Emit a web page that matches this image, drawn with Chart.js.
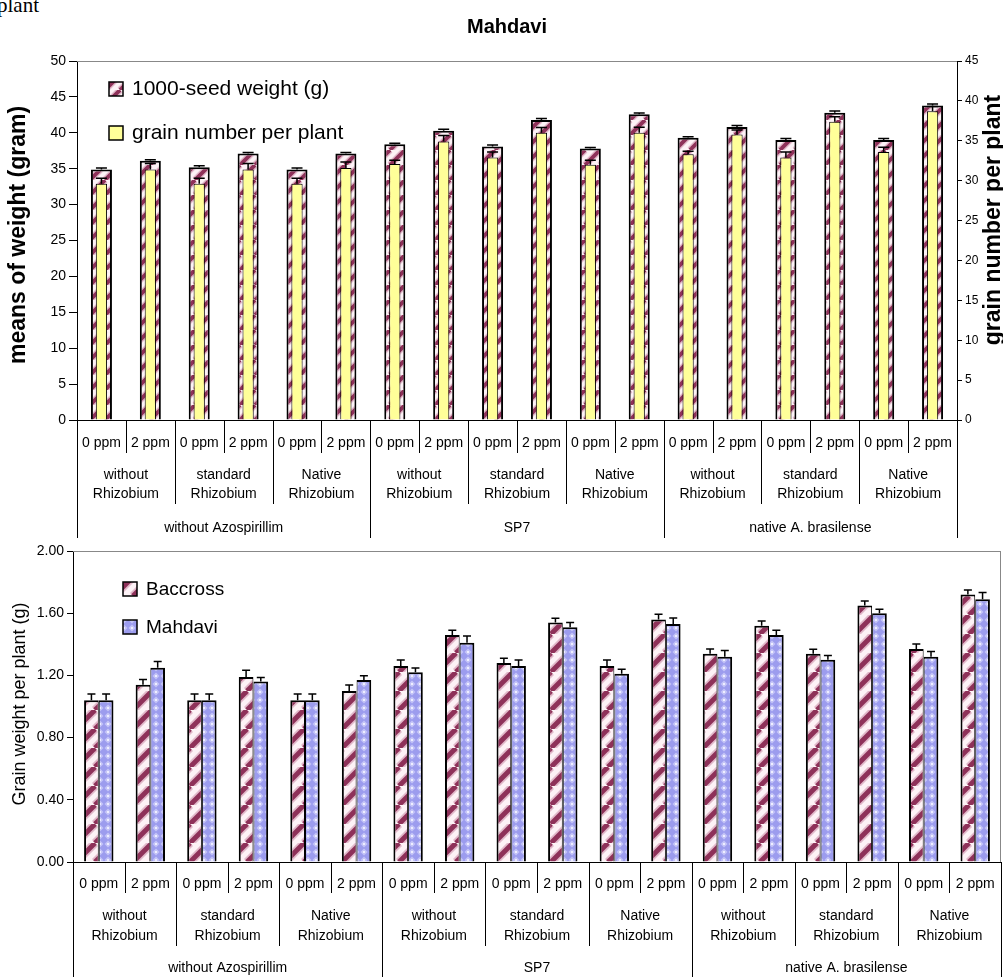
<!DOCTYPE html>
<html>
<head>
<meta charset="utf-8">
<script src="https://cdn.jsdelivr.net/npm/chart.js@4.4.1/dist/chart.umd.min.js"></script>
<style>
  html, body { margin: 0; padding: 0; background: #fff; }
  body { width: 1003px; height: 977px; position: relative; overflow: hidden; }
  #note { position: absolute; left: -3px; top: -5px; font: 21px/1 "Liberation Serif", "Times New Roman", serif; color: #000; }
  .box { position: absolute; left: 0; width: 1003px; }
  #topBox { top: 0; height: 548px; }
  #botBox { top: 520px; height: 457px; }
</style>
</head>
<body>
<div id="note">plant</div>
<div class="box" id="topBox"><canvas id="seedChart"></canvas></div>
<div class="box" id="botBox"><canvas id="grainChart"></canvas></div>
<script>
// category levels
const azoLabels = ['without Azospirillim', 'SP7', 'native A. brasilense'];
const rhizoLabels = [['without', 'Rhizobium'], ['standard', 'Rhizobium'], ['Native', 'Rhizobium']];
const doseLabels = ['0 ppm', '2 ppm'];

// top chart (Mahdavi)
const seedWeight = [34.9, 36.1, 35.2, 37.1, 34.9, 37.1, 38.4, 40.3, 38.1, 41.8, 37.8, 42.6, 39.3, 40.8, 39.0, 42.8, 39.0, 43.8];
const seedWeightErr = [0.2, 0.15, 0.2, 0.15, 0.2, 0.15, 0.15, 0.2, 0.2, 0.2, 0.15, 0.15, 0.15, 0.2, 0.2, 0.25, 0.2, 0.2];
const grainNumber = [29.6, 31.4, 29.6, 31.4, 29.6, 31.6, 32.1, 34.9, 32.9, 36.0, 32.0, 36.0, 33.3, 35.8, 32.9, 37.4, 33.6, 38.7];
const grainNumberErr = [0.7, 0.75, 0.7, 0.75, 0.7, 0.75, 0.45, 0.75, 0.7, 0.67, 0.55, 0.7, 0.4, 0.55, 0.7, 0.6, 0.6, 0.6];
const weightTicks = [0, 50, 5];
const grainTicks = [0, 45, 5];

// bottom chart (grain weight per plant)
const baccross = [1.04, 1.14, 1.04, 1.19, 1.04, 1.10, 1.26, 1.46, 1.28, 1.54, 1.26, 1.56, 1.34, 1.52, 1.34, 1.65, 1.37, 1.72];
const baccrossErr = [0.04, 0.034, 0.04, 0.043, 0.04, 0.039, 0.039, 0.03, 0.03, 0.028, 0.039, 0.034, 0.03, 0.03, 0.028, 0.028, 0.032, 0.03];
const mahdavi = [1.04, 1.25, 1.04, 1.16, 1.04, 1.17, 1.22, 1.41, 1.26, 1.51, 1.21, 1.53, 1.32, 1.46, 1.30, 1.60, 1.32, 1.69];
const mahdaviErr = [0.04, 0.039, 0.04, 0.026, 0.04, 0.028, 0.028, 0.043, 0.039, 0.03, 0.03, 0.039, 0.04, 0.03, 0.028, 0.026, 0.034, 0.043];
const grainWeightTicks = [0, 2, 0.4];

const labels = [];
azoLabels.forEach(a => rhizoLabels.forEach(r => doseLabels.forEach(d => labels.push(d + ' / ' + r.join(' ') + ' / ' + a))));

const FONT = '"Liberation Sans", Arial, Helvetica, sans-serif';
Chart.defaults.font.family = FONT;
Chart.defaults.color = '#000';
Chart.defaults.animation = false;

// fills
function stripes(period) {
  const c = document.createElement('canvas');
  c.width = period; c.height = period;
  const g = c.getContext('2d');
  g.fillStyle = '#fdf2f6';
  g.fillRect(0, 0, period, period);
  [[period * 0.45, '#e2b9ca'], [period * 0.26, '#8e3159']].forEach(([w, col]) => {
    g.strokeStyle = col; g.lineWidth = w;
    for (let k = -1; k <= 1; k++) {
      g.beginPath(); g.moveTo(k * period, period); g.lineTo(k * period + period, 0); g.stroke();
    }
  });
  return g.createPattern(c, 'repeat');
}
function dots() {
  const s = 8;
  const c = document.createElement('canvas');
  c.width = s; c.height = s;
  const g = c.getContext('2d');
  g.fillStyle = '#9c9cee'; g.fillRect(0, 0, s, s);
  g.fillStyle = '#c4c4f7';
  g.beginPath(); g.moveTo(4, 0.5); g.lineTo(7.5, 4); g.lineTo(4, 7.5); g.lineTo(0.5, 4); g.closePath(); g.fill();
  g.fillStyle = '#eeeeff'; g.fillRect(3, 3, 2, 2);
  return g.createPattern(c, 'repeat');
}
const topStripe = stripes(15);
const botStripe = stripes(19);
const blueDots = dots();
const yellow = '#ffff99';

const errorBars = {
  id: 'errorBars',
  afterDatasetsDraw(chart) {
    const ctx = chart.ctx;
    chart.data.datasets.forEach((ds, di) => {
      if (!ds.errors) return;
      const meta = chart.getDatasetMeta(di);
      const scale = chart.scales[meta.yAxisID];
      const cap = ds.capWidth / 2;
      ctx.save();
      ctx.strokeStyle = '#000';
      ctx.lineWidth = 1.5;
      meta.data.forEach((bar, i) => {
        const top = scale.getPixelForValue(ds.data[i] + ds.errors[i]);
        ctx.beginPath();
        ctx.moveTo(bar.x, bar.y); ctx.lineTo(bar.x, top);
        ctx.moveTo(bar.x - cap, top); ctx.lineTo(bar.x + cap, top);
        ctx.stroke();
      });
      ctx.restore();
    });
  }
};

// hierarchical category axis, legend, titles, frame
function decor(cfg) {
  return {
    id: 'decor',
    beforeDatasetsDraw(chart) {
      const {ctx, chartArea: a} = chart;
      ctx.save();
      ctx.strokeStyle = '#888';
      ctx.lineWidth = 1;
      ctx.beginPath();
      ctx.moveTo(a.left, Math.round(a.top) + 0.5); ctx.lineTo(a.right, Math.round(a.top) + 0.5);
      if (cfg.rightFrame) { ctx.moveTo(Math.round(a.right) - 0.5, a.top); ctx.lineTo(Math.round(a.right) - 0.5, a.bottom); }
      ctx.stroke();
      ctx.restore();
    },
    afterDraw(chart) {
      const {ctx, chartArea: a} = chart;
      const x = chart.scales.x;
      const y0 = a.bottom;
      const half = (x.getPixelForValue(1) - x.getPixelForValue(0)) / 2;
      const edge = i => x.getPixelForValue(i) - half;
      const g = cfg.geom;
      ctx.save();
      ctx.strokeStyle = '#000';
      ctx.lineWidth = 1;
      for (let i = 0; i <= labels.length; i++) {
        const depth = i % 6 === 0 ? g.line3 : (i % 2 === 0 ? g.line2 : g.line1);
        const px = Math.round(edge(i)) + 0.5;
        ctx.beginPath(); ctx.moveTo(px, y0); ctx.lineTo(px, y0 + depth); ctx.stroke();
      }
      ctx.fillStyle = '#000';
      ctx.font = '14px ' + FONT;
      ctx.textAlign = 'center';
      ctx.textBaseline = 'middle';
      labels.forEach((l, i) => ctx.fillText(doseLabels[i % 2], x.getPixelForValue(i), y0 + g.dose));
      for (let k = 0; k < 9; k++) {
        const cx = (edge(2 * k) + edge(2 * k + 2)) / 2;
        const r = rhizoLabels[k % 3];
        ctx.fillText(r[0], cx, y0 + g.rhizo1);
        ctx.fillText(r[1], cx, y0 + g.rhizo2);
      }
      azoLabels.forEach((t, k) => ctx.fillText(t, (edge(6 * k) + edge(6 * k + 6)) / 2, y0 + g.azo));

      // legend
      ctx.textAlign = 'left';
      ctx.textBaseline = 'alphabetic';
      cfg.legend.forEach(it => {
        ctx.fillStyle = it.fill;
        ctx.fillRect(it.x, it.y - 13, 14, 14);
        ctx.strokeStyle = '#000'; ctx.lineWidth = 1.5;
        ctx.strokeRect(it.x, it.y - 13, 14, 14);
        ctx.fillStyle = '#000';
        ctx.font = it.font;
        ctx.fillText(it.text, it.x + 23, it.y);
      });

      // titles
      cfg.titles.forEach(t => {
        ctx.save();
        ctx.translate(t.x, t.y);
        ctx.rotate(t.rot || 0);
        ctx.font = t.font;
        ctx.fillStyle = '#000';
        ctx.textAlign = 'center';
        ctx.textBaseline = t.rot ? 'alphabetic' : 'middle';
        ctx.fillText(t.text, 0, 0);
        ctx.restore();
      });
      ctx.restore();
    }
  };
}

function yAxis(pos, ticks, width, size, tickLen, fmt) {
  return {
    position: pos,
    min: ticks[0], max: ticks[1],
    ticks: { stepSize: ticks[2], font: { size: size }, padding: 3, callback: fmt },
    grid: { drawOnChartArea: false, color: '#000', tickLength: tickLen },
    border: { color: '#000', width: 1 },
    afterFit: s => { s.width = width; }
  };
}

function xAxis(height) {
  return {
    offset: true,
    grid: { display: false },
    ticks: { display: false },
    border: { color: '#000', width: 1 },
    afterFit: s => { s.height = height; }
  };
}

// Top: Mahdavi
new Chart(document.getElementById('seedChart'), {
  type: 'bar',
  data: {
    labels: labels,
    datasets: [
      {
        label: '1000-seed weight (g)',
        data: seedWeight,
        errors: seedWeightErr,
        capWidth: 11,
        yAxisID: 'yW',
        backgroundColor: topStripe,
        borderColor: '#000',
        borderWidth: 2,
        grouped: false,
        categoryPercentage: 1,
        barPercentage: 0.43,
        order: 2
      },
      {
        label: 'grain number per plant',
        data: grainNumber,
        errors: grainNumberErr,
        capWidth: 11,
        yAxisID: 'yG',
        backgroundColor: yellow,
        borderColor: '#000',
        borderWidth: 1,
        grouped: false,
        categoryPercentage: 1,
        barPercentage: 0.23,
        order: 1
      }
    ]
  },
  options: {
    responsive: true,
    maintainAspectRatio: false,
    layout: { padding: { top: 61, left: 0, right: 0, bottom: 0 } },
    plugins: { legend: { display: false }, tooltip: { enabled: false }, title: { display: false } },
    scales: {
      x: xAxis(128),
      yW: yAxis('left', weightTicks, 77, 14, 8),
      yG: yAxis('right', grainTicks, 46, 12, 5)
    }
  },
  plugins: [errorBars, decor({
    geom: { dose: 23, rhizo1: 55, rhizo2: 74, azo: 108, line1: 33, line2: 84, line3: 118 },
    legend: [
      { fill: topStripe, text: '1000-seed weight (g)', x: 109, y: 95, font: '21px ' + FONT },
      { fill: yellow, text: 'grain number per plant', x: 109, y: 139, font: '21px ' + FONT }
    ],
    titles: [
      { text: 'Mahdavi', x: 507, y: 27, font: 'bold 20px ' + FONT },
      { text: 'means of weight (gram)', x: 25, y: 235, rot: -Math.PI / 2, font: 'bold 23px ' + FONT },
      { text: 'grain number per plant', x: 1000, y: 220, rot: -Math.PI / 2, font: 'bold 23px ' + FONT }
    ]
  })]
});

// Bottom: grain weight per plant
new Chart(document.getElementById('grainChart'), {
  type: 'bar',
  data: {
    labels: labels,
    datasets: [
      {
        label: 'Baccross',
        data: baccross,
        errors: baccrossErr,
        capWidth: 8,
        backgroundColor: botStripe,
        borderColor: '#000',
        borderWidth: { top: 2, left: 2, right: 1, bottom: 0 },
        categoryPercentage: 0.57,
        barPercentage: 1
      },
      {
        label: 'Mahdavi',
        data: mahdavi,
        errors: mahdaviErr,
        capWidth: 8,
        backgroundColor: blueDots,
        borderColor: '#000',
        borderWidth: { top: 2, left: 1, right: 2, bottom: 0 },
        categoryPercentage: 0.57,
        barPercentage: 1
      }
    ]
  },
  options: {
    responsive: true,
    maintainAspectRatio: false,
    layout: { padding: { top: 31, left: 0, right: 2, bottom: 0 } },
    plugins: { legend: { display: false }, tooltip: { enabled: false } },
    scales: {
      x: xAxis(115),
      y: yAxis('left', grainWeightTicks, 73, 14, 6, v => v.toFixed(2))
    }
  },
  plugins: [errorBars, decor({
    rightFrame: true,
    geom: { dose: 22, rhizo1: 54, rhizo2: 74, azo: 106, line1: 31, line2: 84, line3: 120 },
    legend: [
      { fill: botStripe, text: 'Baccross', x: 123, y: 75, font: '19px ' + FONT },
      { fill: blueDots, text: 'Mahdavi', x: 123, y: 113, font: '19px ' + FONT }
    ],
    titles: [
      { text: 'Grain weight per plant (g)', x: 25, y: 184, rot: -Math.PI / 2, font: '18px ' + FONT }
    ]
  })]
});
</script>
</body>
</html>
